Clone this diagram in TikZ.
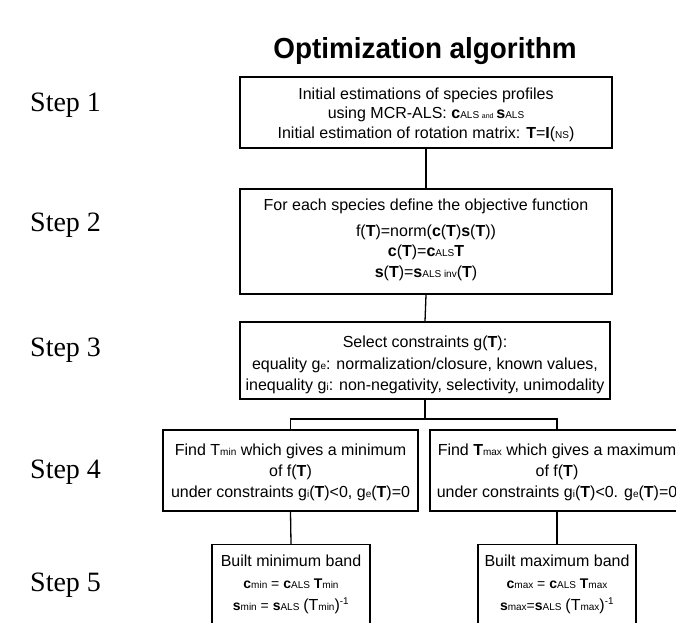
\documentclass[tikz,border=0pt]{standalone}
\usepackage{fontspec}
\setmainfont{Liberation Sans}
\newfontfamily\stepfont{Liberation Serif}
\newfontfamily\titlefont[FakeStretch=0.96]{Liberation Sans}
\newcommand\lo[1]{{\fontsize{10}{10}\selectfont #1}}
\newcommand\bx[1]{\textbf{#1}}
\tikzset{
  frame/.style={draw, line width=1.3pt, inner sep=0pt},
  boxtext/.style={align=center, inner sep=0pt, font=\fontsize{16}{21}\selectfont},
  steplabel/.style={anchor=west, font=\stepfont\fontsize{28}{28}\selectfont, inner sep=0pt},
  link/.style={line width=1.3pt}
}
\begin{document}
\begin{tikzpicture}[x=1pt,y=-1pt]
\useasboundingbox (0,0) rectangle (676,622);
\clip (0,0) rectangle (676,622);
\node[font=\titlefont\bfseries\fontsize{29}{29}\selectfont] (title) at (425,51) {Optimization algorithm};
\node[steplabel] (s1) at (30,105) {Step 1};
\node[steplabel] (s2) at (30,225) {Step 2};
\node[steplabel] (s3) at (30,350) {Step 3};
\node[steplabel] (s4) at (30,472) {Step 4};
\node[steplabel] (s5) at (30,585) {Step 5};

% frames
\node[frame, minimum width=372pt, minimum height=71pt] (b1) at (426,112.5) {};
\node[frame, minimum width=372pt, minimum height=105pt] (b2) at (426,241.5) {};
\node[frame, minimum width=370pt, minimum height=77pt] (b3) at (425,360.5) {};
\coordinate (j) at (425,419);
\node[frame, minimum width=255pt, minimum height=81pt] (b4l) at (290.5,470.5) {};
\node[frame, minimum width=254pt, minimum height=81pt] (b4r) at (557,470.5) {};
\node[frame, minimum width=158pt, minimum height=110pt, anchor=north] (b5l) at (291,544) {};
\node[frame, minimum width=158pt, minimum height=110pt, anchor=north] (b5r) at (557,544) {};

% texts
\node[boxtext, font=\fontsize{16}{19.5}\selectfont] (t1) at (426,114.5)
 {Initial estimations of species profiles\\
  using MCR-ALS: \bx{c}\lo{ALS {\fontsize{7}{7}\selectfont and} }\bx{s}\lo{ALS}\\
  Initial estimation of rotation matrix: \bx{T}=\bx{I}(\lo{NS})};
\node[boxtext, font=\fontsize{16}{20.5}\selectfont] (t2) at (426,240)
 {For each species define the objective function\\[5pt]
  f(\bx{T})=norm(\bx{c}(\bx{T})\bx{s}(\bx{T}))\\
  \bx{c}(\bx{T})=\bx{c}\lo{ALS}\bx{T}\\
  \bx{s}(\bx{T})=\bx{s}\lo{ALS inv}(\bx{T})};
\node[boxtext, font=\fontsize{16}{21.5}\selectfont] (t3) at (425,365)
 {Select constraints g(\bx{T}):\\
  equality g\lo{e}: normalization/closure, known values,\\
  inequality g\lo{i}: non-negativity, selectivity, unimodality};
\node[boxtext] (t4l) at (290.5,472)
 {Find T\lo{min} which gives a minimum\\
  of f(\bx{T})\\
  under constraints g\lo{i}(\bx{T})<0, g\lo{e}(\bx{T})=0};
\node[boxtext] (t4r) at (557,472)
 {Find \bx{T}\lo{max} which gives a maximum\\
  of f(\bx{T})\\
  under constraints g\lo{i}(\bx{T})<0. g\lo{e}(\bx{T})=0};
\node[boxtext, font=\fontsize{16}{22}\selectfont] (t5l) at (291,584)
 {Built minimum band\\
  {\fontsize{14}{14}\selectfont\bx{c}\lo{min} = \bx{c}\lo{ALS} \bx{T}\lo{min}}\\
  {\fontsize{14}{14}\selectfont\bx{s}\lo{min} = \bx{s}\lo{ALS} {\fontsize{16}{16}\selectfont(T\lo{min})}\textsuperscript{-1}}};
\node[boxtext, font=\fontsize{16}{22}\selectfont] (t5r) at (557,584)
 {Built maximum band\\
  {\fontsize{14}{14}\selectfont\bx{c}\lo{max} = \bx{c}\lo{ALS} \bx{T}\lo{max}}\\
  {\fontsize{14}{14}\selectfont\bx{s}\lo{max}=\bx{s}\lo{ALS} {\fontsize{16}{16}\selectfont(T\lo{max})}\textsuperscript{-1}}};

\draw[link] (b1.south) -- (b2.north);
\draw[link] (b2.south) -- (b3.north);
\draw[link] (b3.south) -- (j);
\draw[link] (b4l.north) |- (j) -| (b4r.north);
\draw[link] (b4l.south) -- (b5l.north);
\draw[link] (b4r.south) -- (b5r.north);
\end{tikzpicture}
\end{document}
